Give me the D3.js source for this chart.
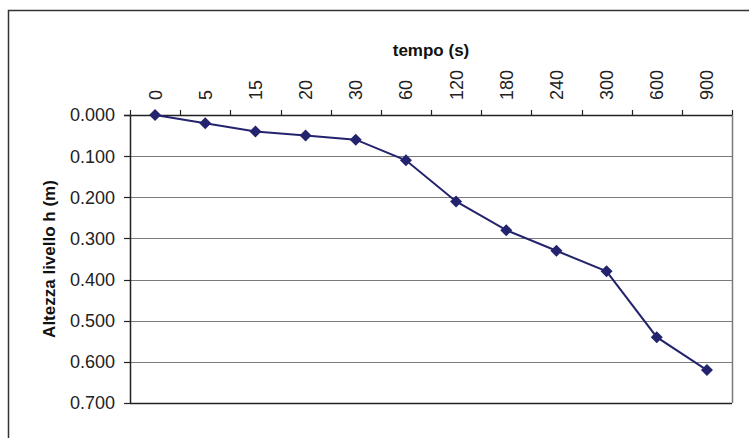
<!DOCTYPE html>
<html lang="en">
<head>
<meta charset="utf-8">
<title>Altezza livello h</title>
<style>
  body { margin: 0; background: #fff; }
  svg { display: block; }
  .tick-lbl { font-family: "Liberation Sans", Arial, sans-serif; font-size: 18px; fill: #222; }
  .axis-title { font-family: "Liberation Sans", Arial, sans-serif; font-size: 17px; font-weight: bold; fill: #111; text-anchor: middle; }
</style>
</head>
<body>
<div id="chart"></div>
<script src="https://cdn.jsdelivr.net/npm/d3@7"></script>
<script>
// data
var tempo = ["0", "5", "15", "20", "30", "60", "120", "180", "240", "300", "600", "900"];
var altezza = [0.000, 0.020, 0.040, 0.050, 0.060, 0.110, 0.210, 0.280, 0.330, 0.380, 0.540, 0.620];
var yTicks = [0, 0.1, 0.2, 0.3, 0.4, 0.5, 0.6, 0.7];

var W = 749, H = 438;
var margin = {top: 115, left: 130, right: 17, bottom: 35};
var width = W - margin.left - margin.right,
    height = 403 - margin.top;

var svg = d3.select("#chart").append("svg")
    .attr("width", W)
    .attr("height", H);

// outer chart frame (only top and left visible)
svg.append("rect")
   .attr("x", 8.5).attr("y", 10.5)
   .attr("width", 800).attr("height", 500)
   .style("fill", "none")
   .style("stroke", "#333")
   .style("stroke-width", 1.5);

var plt = svg.append("g").attr("transform", "translate(" + margin.left + "," + margin.top + ")");

var x = d3.scaleBand().domain(tempo).range([0, width]).padding(0);
var y = d3.scaleLinear().domain([0, 0.7]).range([0, height]);

// gridlines
plt.selectAll(".grid")
   .data(yTicks.filter(function(d){ return d > 0 && d < 0.7; }))
   .enter().append("line")
   .attr("x1", 0).attr("x2", width)
   .attr("y1", function(d){ return Math.round(y(d)) + 0.5; })
   .attr("y2", function(d){ return Math.round(y(d)) + 0.5; })
   .style("stroke", "#7a7a7a").style("stroke-width", 1.2);

// right border of plot area
plt.append("line")
   .attr("x1", width + 0.5).attr("x2", width + 0.5)
   .attr("y1", 0).attr("y2", height)
   .style("stroke", "#7a7a7a").style("stroke-width", 1.5);

// bottom border
plt.append("line")
   .attr("x1", 0).attr("x2", width)
   .attr("y1", height + 0.5).attr("y2", height + 0.5)
   .style("stroke", "#222").style("stroke-width", 1.5);

// top axis (categories)
plt.append("line")
   .attr("x1", -6).attr("x2", width)
   .attr("y1", 0.5).attr("y2", 0.5)
   .style("stroke", "#222").style("stroke-width", 1.5);

var bounds = tempo.map(function(d){ return x(d); }).concat([width]);
plt.selectAll(".xtick")
   .data(bounds)
   .enter().append("line")
   .attr("x1", function(d){ return Math.round(d) + 0.5; })
   .attr("x2", function(d){ return Math.round(d) + 0.5; })
   .attr("y1", -5).attr("y2", 0)
   .style("stroke", "#222").style("stroke-width", 1.2);

plt.selectAll(".xlbl")
   .data(tempo)
   .enter().append("text")
   .attr("class", "tick-lbl")
   .attr("transform", function(d){
       return "translate(" + (x(d) + x.bandwidth() / 2 + 6.5) + "," + (-15) + ") rotate(-90)";
   })
   .style("text-anchor", "start")
   .text(function(d){ return d; });

// left axis
plt.append("line")
   .attr("x1", 0.5).attr("x2", 0.5)
   .attr("y1", 0).attr("y2", height)
   .style("stroke", "#222").style("stroke-width", 1.5);

plt.selectAll(".ytick")
   .data(yTicks)
   .enter().append("line")
   .attr("x1", -6).attr("x2", 0)
   .attr("y1", function(d){ return Math.round(y(d)) + 0.5; })
   .attr("y2", function(d){ return Math.round(y(d)) + 0.5; })
   .style("stroke", "#222").style("stroke-width", 1.2);

plt.selectAll(".ylbl")
   .data(yTicks)
   .enter().append("text")
   .attr("class", "tick-lbl")
   .attr("x", -15)
   .attr("y", function(d){ return y(d); })
   .attr("dy", "0.36em")
   .style("text-anchor", "end")
   .text(function(d){ return d3.format(".3f")(d); });

// series
var pts = tempo.map(function(t, i){ return {t: t, v: altezza[i]}; });
var line = d3.line()
    .x(function(d){ return x(d.t) + x.bandwidth() / 2; })
    .y(function(d){ return y(d.v); });

plt.append("path")
   .datum(pts)
   .attr("d", line)
   .style("fill", "none")
   .style("stroke", "#23236e")
   .style("stroke-width", 2);

plt.selectAll(".pt")
   .data(pts)
   .enter().append("path")
   .attr("transform", function(d){
       return "translate(" + (x(d.t) + x.bandwidth() / 2) + "," + y(d.v) + ")";
   })
   .attr("d", "M0,-6L6,0L0,6L-6,0Z")
   .style("fill", "#23236e");

// titles
svg.append("text")
   .attr("class", "axis-title")
   .attr("x", margin.left + width / 2)
   .attr("y", 56)
   .text("tempo (s)");

svg.append("text")
   .attr("class", "axis-title")
   .attr("transform", "translate(55," + (margin.top + height / 2) + ") rotate(-90)")
   .text("Altezza livello h (m)");
</script>
</body>
</html>
